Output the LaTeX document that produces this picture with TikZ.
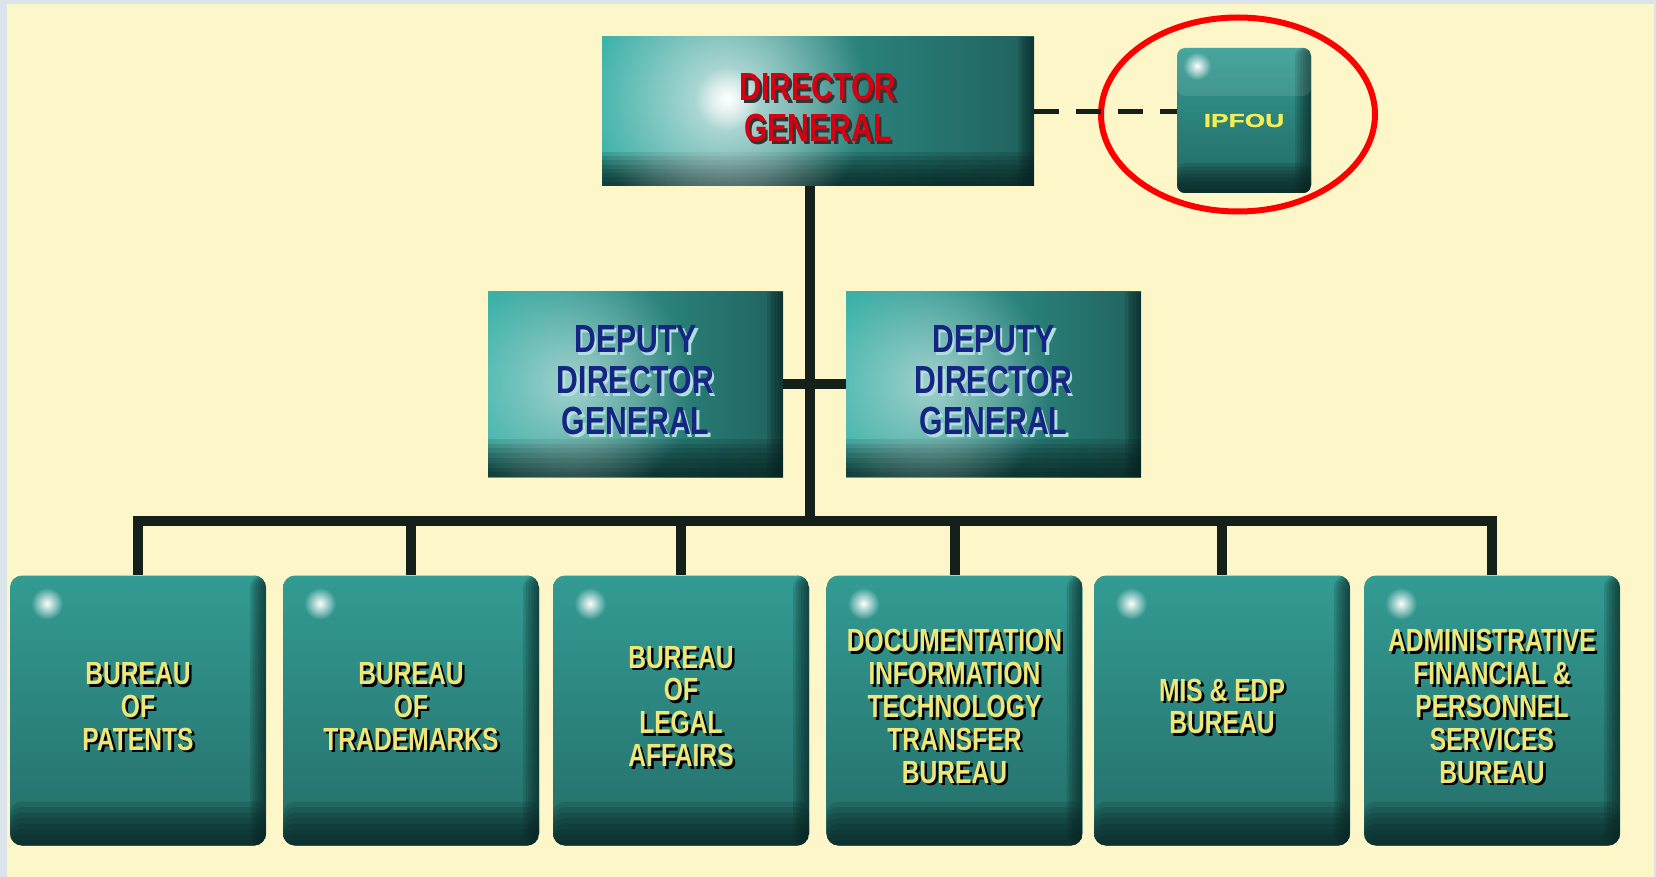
\documentclass[tikz,border=0pt]{standalone}
\usepackage{fontspec}
\newfontfamily\orgfont[FakeStretch=0.77]{Liberation Sans}
\newfontfamily\widefont[FakeStretch=1.4, FakeBold=1.2]{Liberation Sans}
\usetikzlibrary{calc,fadings}

\definecolor{paper}{RGB}{253,246,200}
\definecolor{rim}{RGB}{218,228,234}
\definecolor{tealhi}{RGB}{58,178,168}
\definecolor{tealmid}{RGB}{40,122,116}
\definecolor{tealdeep}{RGB}{8,34,32}
\definecolor{wire}{RGB}{22,32,26}
\definecolor{dgred}{RGB}{214,0,16}
\definecolor{depblue}{RGB}{22,36,130}
\definecolor{buryellow}{RGB}{240,230,120}
\definecolor{ringred}{RGB}{255,0,0}

\tikzfading[name=glowfade, inner color=transparent!0, outer color=transparent!100]

% dark bottom band and right edge of a box
\newcommand\bevel[1]{%
  \foreach \k in {1,...,8}{
    \fill[tealdeep, opacity=.17] (path picture bounding box.south west) rectangle ($(path picture bounding box.south east)+(0,-#1*\k/8)$);
  }
  \foreach \k in {1,...,6}{
    \fill[tealdeep, opacity=.16] (path picture bounding box.north east) rectangle ($(path picture bounding box.south east)+(-16*\k/6,0)$);
  }}

% caption with a drop shadow: node, text style, colour, shadow colour, text
\newcommand\boxcaption[5]{%
  \node[#2, text=#4, xshift=1.3pt, yshift=0.7pt] (#1-shadow) at (#1) {#5};
  \node[#2, text=#3, yshift=2pt] (#1-text) at (#1) {#5};}

\tikzset{
  wire/.style={draw=wire, line width=5pt},
  dgpanel/.style={inner sep=0pt, left color=tealhi, right color=tealmid!80!black,
    minimum width=216pt, minimum height=74.5pt,
    path picture={\bevel{34}
      \fill[white, opacity=.75, path fading=glowfade] ($(path picture bounding box.north west)+(125,62)$) circle (70pt);
      \fill[white, path fading=glowfade] ($(path picture bounding box.north west)+(125,62)$) circle (16pt);}},
  deppanel/.style={inner sep=0pt, left color=tealhi, right color=tealmid!80!black,
    minimum width=147.5pt, minimum height=92.5pt,
    path picture={\bevel{38}
      \fill[white, opacity=.55, path fading=glowfade] ($(path picture bounding box.north west)+(85,92)$) circle (60pt);}},
  tile/.style={inner sep=0pt, rounded corners=6pt, top color=tealhi!60!tealmid, bottom color=tealmid!90!black,
    minimum width=128pt, minimum height=135pt,
    path picture={\bevel{44}
      \fill[white, path fading=glowfade] ($(path picture bounding box.north west)+(37,28)$) circle (8pt);}},
  smalltile/.style={inner sep=0pt, rounded corners=4pt, top color=tealhi!60!tealmid, bottom color=tealmid!85!black,
    minimum width=67pt, minimum height=72.5pt,
    path picture={\bevel{30}
      \fill[white, opacity=.1] (path picture bounding box.north west) rectangle ($(path picture bounding box.north east)+(0,48)$);
      \fill[white, path fading=glowfade] ($(path picture bounding box.north west)+(20,18)$) circle (7pt);}},
  bigtext/.style={align=center, inner sep=0pt, font=\orgfont\bfseries\fontsize{19.6}{20.5}\selectfont},
  smalltext/.style={align=center, inner sep=0pt, font=\orgfont\bfseries\fontsize{16}{16.4}\selectfont},
  widetext/.style={align=center, inner sep=0pt, font=\widefont\bfseries\fontsize{9.4}{9.4}\selectfont},
}

\begin{document}
\begin{tikzpicture}[x=0.5pt, y=-0.5pt]
    \useasboundingbox (0,0) rectangle (1656,877);
    % Background
    \fill[rim] (0,0) rectangle (1656,877);
    \fill[paper] (7,4) rectangle (1654,877);

    % Director General and IPFOU
    \node[dgpanel] (dg) at (818,111.5) {};
    \node[smalltile] (ipfou) at (1244,120.5) {};
    \draw[ringred, line width=3pt] (1238,114.5) ellipse [x radius=68.5pt, y radius=48.5pt];

    % Deputies
    \node[deppanel] (ddg1) at (635.5,384.5) {};
    \node[deppanel] (ddg2) at (993.5,384.5) {};

    % Bureaus
    \node[tile] (pat)   at (138,710.5) {};
    \node[tile] (tm)    at (411,710.5) {};
    \node[tile] (legal) at (681,710.5) {};
    \node[tile] (doc)   at (954.5,710.5) {};
    \node[tile] (mis)   at (1222,710.5) {};
    \node[tile] (afp)   at (1492,710.5) {};

    % Connectors
    \coordinate (hub) at (810,521);
    \draw[wire] (dg.south -| hub) -- (hub);
    \draw[wire] (ddg1.east) -- (ddg2.west);
    \draw[wire] (pat.north) |- (afp.north |- hub) -- (afp.north);
    \draw[wire] (tm.north) -- (tm.north |- hub);
    \draw[wire] (legal.north) -- (legal.north |- hub);
    \draw[wire] (doc.north) -- (doc.north |- hub);
    \draw[wire] (mis.north) -- (mis.north |- hub);
    \draw[wire, line width=2.7pt, dash pattern=on 12.5pt off 8.5pt] (dg.east) -- (dg.east -| ipfou.west);

    % Captions
    \boxcaption{dg}{bigtext}{dgred}{black!80}{DIRECTOR\\GENERAL}
    \node[widetext, text=buryellow!70!yellow] (ipfou-text) at (ipfou) {IPFOU};
    \boxcaption{ddg1}{bigtext}{depblue}{white!60!tealhi}{DEPUTY\\DIRECTOR\\GENERAL}
    \boxcaption{ddg2}{bigtext}{depblue}{white!60!tealhi}{DEPUTY\\DIRECTOR\\GENERAL}
    \boxcaption{pat}{smalltext}{buryellow}{black}{BUREAU\\OF\\PATENTS}
    \boxcaption{tm}{smalltext}{buryellow}{black}{BUREAU\\OF\\TRADEMARKS}
    \boxcaption{legal}{smalltext}{buryellow}{black}{BUREAU\\OF\\LEGAL\\AFFAIRS}
    \boxcaption{doc}{smalltext}{buryellow}{black}{DOCUMENTATION\\INFORMATION\\TECHNOLOGY\\TRANSFER\\BUREAU}
    \boxcaption{mis}{smalltext}{buryellow}{black}{MIS \& EDP\\BUREAU}
    \boxcaption{afp}{smalltext}{buryellow}{black}{ADMINISTRATIVE\\FINANCIAL \&\\PERSONNEL\\SERVICES\\BUREAU}
\end{tikzpicture}
\end{document}
